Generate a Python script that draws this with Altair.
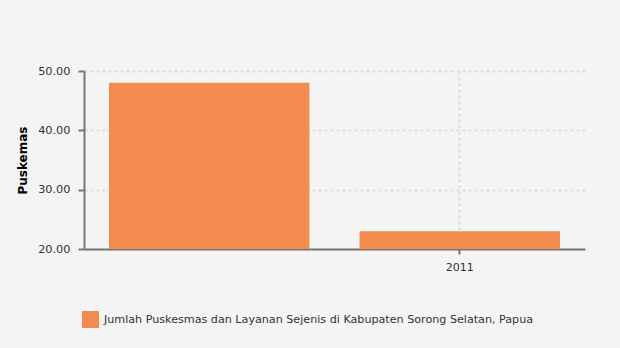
import altair as alt
import pandas as pd

categories = ["", "2011"]
values = [48.0, 23.0]
series = ["Jumlah Puskesmas dan Layanan Sejenis di Kabupaten Sorong Selatan, Papua"] * 2

df = pd.DataFrame({"tahun": categories, "nilai": values, "seri": series})

FONT = "DejaVu Sans"

chart = alt.Chart(df).mark_bar(clip=True, color="#f38b4f").encode(
    x=alt.X("tahun:N", sort=categories, title=None,
            scale=alt.Scale(paddingInner=0.2, paddingOuter=0.1),
            axis=alt.Axis(values=["2011"], labelAngle=0, grid=True,
                          gridColor="#dddddd", gridDash=[3, 3], gridWidth=2,
                          domainColor="#777777", domainWidth=2,
                          tickColor="#777777", tickSize=5, tickWidth=2,
                          labelPadding=7, labelFont=FONT, labelFontSize=11,
                          labelColor="#333333")),
    y=alt.Y("nilai:Q", title="Puskemas",
            scale=alt.Scale(domain=[20, 50], zero=False, nice=False),
            axis=alt.Axis(values=[20, 30, 40, 50], format=".2f", grid=True,
                          gridColor="#dddddd", gridDash=[3, 3], gridWidth=2,
                          domainColor="#777777", domainWidth=2,
                          tickColor="#777777", tickSize=6, tickWidth=2,
                          labelPadding=8, labelFont=FONT, labelFontSize=11.3,
                          labelColor="#333333",
                          titleFont=FONT, titleFontSize=12, titleFontWeight="bold",
                          titleColor="#000000", titleAngle=-90,
                          titleX=-62, titleY=89, titleAlign="center",
                          titleBaseline="middle")),
    color=alt.Color("seri:N", scale=alt.Scale(range=["#f38b4f"]),
                    legend=alt.Legend(title=None, orient="none", legendX=-2, legendY=240,
                                      symbolType="square", symbolSize=289,
                                      symbolStrokeWidth=0, labelOffset=5,
                                      labelFont=FONT, labelFontSize=11.15,
                                      labelColor="#333333", labelLimit=600)),
).properties(
    width=501, height=178,
    background="#f4f4f4",
    padding={"left": 84, "top": 71, "right": 35, "bottom": 99},
    autosize=alt.AutoSizeParams(type="none"),
).configure_view(stroke=None)

chart.save("out.html", embed_options={"renderer": "svg", "actions": False})
